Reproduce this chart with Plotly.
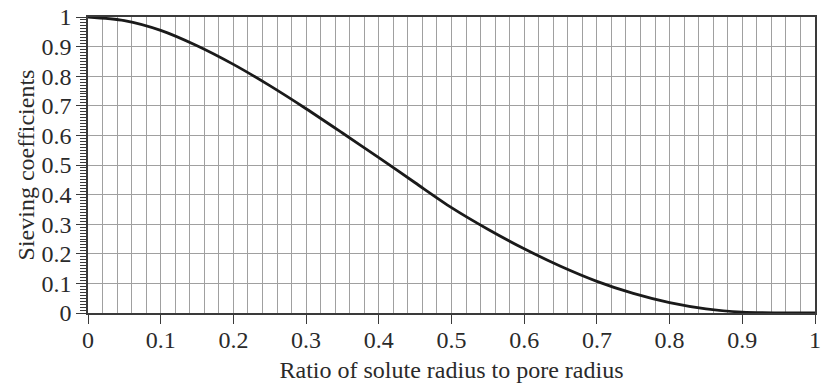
import plotly.graph_objects as go

# Data
ratio = [0.0, 0.05, 0.1, 0.15, 0.2, 0.25, 0.3, 0.35, 0.4, 0.45, 0.5,
         0.55, 0.6, 0.65, 0.7, 0.75, 0.8, 0.85, 0.9, 0.95, 1.0]
sieving = [1.0, 0.988, 0.955, 0.903, 0.840, 0.768, 0.690, 0.608, 0.525, 0.440, 0.356,
           0.283, 0.217, 0.158, 0.107, 0.066, 0.035, 0.014, 0.003, 0.0004, 0.0]

x_ticks = [0, 0.1, 0.2, 0.3, 0.4, 0.5, 0.6, 0.7, 0.8, 0.9, 1]
x_labels = ["0", "0.1", "0.2", "0.3", "0.4", "0.5", "0.6", "0.7", "0.8", "0.9", "1"]
y_ticks = [0, 0.1, 0.2, 0.3, 0.4, 0.5, 0.6, 0.7, 0.8, 0.9, 1]
y_labels = ["0", "0.1", "0.2", "0.3", "0.4", "0.5", "0.6", "0.7", "0.8", "0.9", "1"]

font = dict(family="Liberation Serif, Times New Roman, serif", size=24, color="#2a2a2a")
grid_col = "#a0a0a0"
axis_col = "#3a3a3a"

fig = go.Figure()
fig.add_trace(go.Scatter(
    x=ratio, y=sieving, mode="lines",
    line=dict(color="#1a1a1a", width=2.8, shape="spline", smoothing=0.8),
    showlegend=False, hoverinfo="skip",
))

fig.update_layout(
    width=822, height=384,
    margin=dict(l=88, r=1, t=17, b=71),
    paper_bgcolor="white", plot_bgcolor="white",
    font=font,
    xaxis=dict(
        range=[0, 1], tickmode="array", tickvals=x_ticks, ticktext=x_labels,
        ticks="outside", ticklen=9, tickcolor=axis_col, tickwidth=1.2,
        ticklabeloverflow="allow", ticklabelstandoff=-5,
        showgrid=True, gridcolor=grid_col, gridwidth=1,
        minor=dict(dtick=0.02, showgrid=True, gridcolor=grid_col, gridwidth=1),
        showline=True, linecolor=axis_col, linewidth=1.6, mirror=True,
        zeroline=False,
        title=dict(text="Ratio of solute radius to pore radius", standoff=10, font=font),
        tickfont=font,
    ),
    yaxis=dict(
        range=[0, 1], tickmode="array", tickvals=y_ticks, ticktext=y_labels,
        ticks="outside", ticklen=10, tickcolor=axis_col, tickwidth=1.2,
        ticklabeloverflow="allow",
        showgrid=True, gridcolor=grid_col, gridwidth=1,
        minor=dict(dtick=0.01, ticks="outside", ticklen=6, tickcolor=axis_col,
                   tickwidth=1, showgrid=False),
        showline=True, linecolor=axis_col, linewidth=1.6, mirror=True,
        zeroline=False,
        title=dict(text="Sieving coefficients", standoff=0, font=font),
        tickfont=font,
    ),
)

fig.write_html("out.html")
